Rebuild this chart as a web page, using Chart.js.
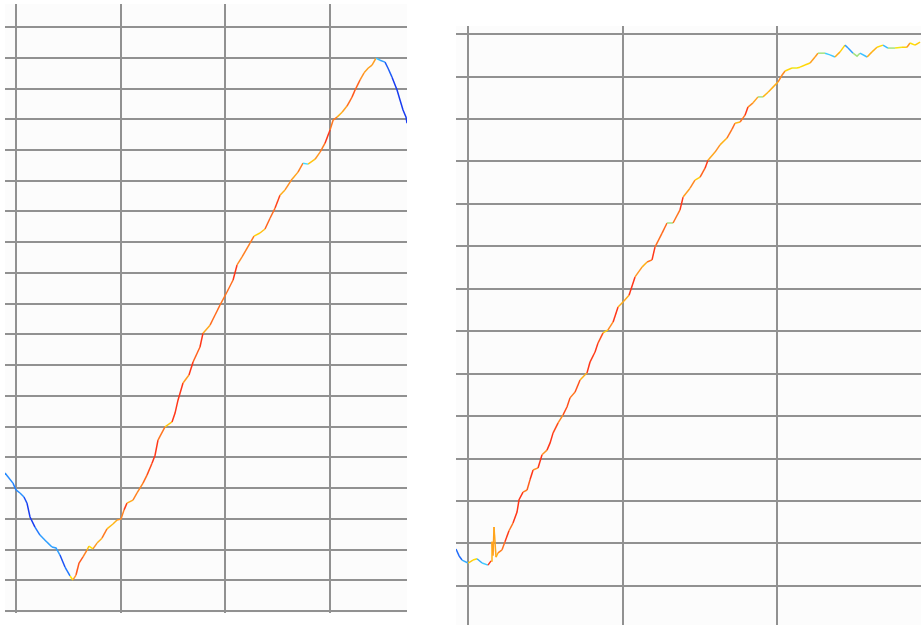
<!DOCTYPE html>
<html>
<head>
<meta charset="utf-8">
<script src="https://cdn.jsdelivr.net/npm/chart.js@4.4.1/dist/chart.umd.min.js"></script>
<style>
    html, body { margin: 0; padding: 0; background: #ffffff; }
    body { width: 921px; height: 625px; position: relative; overflow: hidden; }
    canvas { position: absolute; }
    #left-chart { left: 5px; top: 4px; }
    #right-chart { left: 456px; top: 26px; }
</style>
</head>
<body>
<canvas id="left-chart" width="402" height="609"></canvas>
<canvas id="right-chart" width="465" height="599"></canvas>
<script>
// left trace
const leftX = [-10.5, -2.9, 0, 3.8, 7.6, 10.5, 13.4, 18.1, 22.9, 29.6, 34.4, 38.2, 42.0, 46.8, 51.6, 54.4,
    57.3, 60.2, 64.0, 67.8, 69.7, 73.5, 77.4, 82.1, 86.9, 92.6, 96.5, 100.3, 103.2, 106.0, 111.7, 115.6,
    121.3, 125.1, 129.9, 132.8, 135.6, 142.3, 149.0, 151.9, 154.7, 159.5, 165.2, 169.1, 175.7, 178.6,
    185.3, 190.1, 194.8, 201.5, 207.3, 211.1, 215.9, 223.5, 227.3, 233.0, 237.8, 242.6, 247.4, 252.1,
    256.9, 263.6, 269.3, 274.1, 278.9, 285.6, 290.4, 295.1, 299.9, 302.8, 306.6, 311.4, 316.1, 320.9,
    323.8, 328.6, 332.4, 336.2, 340.0, 343.8, 347.7, 352.4, 355.3, 359.1, 363.9, 366.8, 369.6, 372.5, 373.4];
const leftY = [44.9, 41.6, 39.4, 38.4, 37.1, 35.1, 30.6, 27.3, 24.7, 22.4, 20.8, 20.5, 18.2, 14.3, 11.4, 10.1,
    11.7, 15.6, 17.6, 19.8, 21.1, 20.2, 22.1, 23.7, 26.7, 28.3, 29.6, 29.9, 32.9, 35.1, 36.1, 38.4,
    41.6, 44.2, 48.1, 50.7, 55.6, 59.9, 61.5, 64.4, 68.6, 74.2, 76.8, 81.0, 85.9, 90.4,
    93.0, 96.3, 99.5, 103.8, 107.7, 112.6, 115.2, 119.7, 122.0, 123.0, 124.3, 127.8, 131.1, 135.3,
    137.0, 140.5, 142.8, 145.7, 145.4, 147.0, 149.3, 152.2, 156.5, 159.7, 160.7, 162.3, 164.3, 167.2,
    169.5, 172.8, 175.1, 176.6, 177.6, 179.9, 179.2, 178.6, 176.6, 173.7, 169.5, 166.2, 163.0, 160.7, 158.7];
const leftXTicks = [0, 100, 200, 300];
const leftYTicks = [0, 10, 20, 30, 40, 50, 60, 70, 80, 90, 100, 110, 120, 130, 140, 150, 160, 170, 180, 190];

// right trace
const rightX = [-7.8, -5.8, -3.9, 0, 3.2, 5.8, 9.1, 12.9, 14.9, 15.5, 16.2, 16.8, 18.1, 19.4, 22.0, 23.9,
    26.5, 29.1, 31.7, 33.0, 35.6, 38.2, 40.1, 42.1, 45.3, 47.9, 51.1, 53.1, 55.0, 58.3, 61.5, 64.1,
    66.0, 69.3, 72.5, 77.0, 79.0, 82.2, 84.1, 87.4, 90.6, 93.9, 97.1, 100.3, 104.2, 108.1, 112.6,
    115.9, 119.1, 121.0, 125.6, 128.8, 132.7, 137.2, 139.2, 143.7, 146.9, 150.2, 153.4, 155.3, 159.9,
    163.1, 167.6, 170.9, 172.8, 176.1, 179.3, 181.2, 184.5, 187.7, 190.9, 194.2, 197.4, 200.6, 203.2,
    205.2, 209.7, 212.9, 214.9, 218.1, 221.4, 224.6, 226.5, 231.1, 234.3, 237.5, 240.8, 244.0, 246.0,
    249.2, 251.8, 253.7, 258.3, 261.5, 264.7, 268.6, 271.8, 276.4, 280.9, 284.1, 286.1, 289.3, 292.6];
const rightY = [8.7, 7.1, 6.1, 5.4, 6.1, 6.4, 5.4, 4.9, 5.9, 10.4, 7.1, 13.9, 6.8, 7.8, 8.5, 10.4,
    13.0, 14.8, 17.4, 20.3, 22.1, 22.6, 25.0, 27.3, 27.8, 30.9, 32.0, 33.7, 36.0, 38.4, 40.3, 42.2,
    44.3, 45.7, 48.5, 50.2, 52.8, 55.1, 57.2, 59.6, 60.3, 62.2, 65.7, 66.9, 68.5, 72.8, 75.1,
    76.3, 76.8, 79.8, 83.1, 85.5, 85.5, 88.6, 91.6, 93.7, 95.6, 96.3, 98.4, 100.3, 102.2,
    103.9, 105.5, 107.6, 109.0, 109.3, 110.9, 112.8, 113.8, 115.2, 115.2, 116.3, 117.5, 118.7, 120.3,
    121.3, 122.0, 122.0, 122.2, 122.7, 123.2, 124.6, 125.5, 125.5, 125.1, 124.6, 125.8, 127.4, 126.7,
    125.5, 124.8, 125.5, 124.6, 125.8, 126.9, 127.4, 126.7, 126.7, 126.9, 126.9, 127.9, 127.4, 128.1];
const rightXTicks = [0, 100, 200];
const rightYTicks = [0, 10, 20, 30, 40, 50, 60, 70, 80, 90, 100, 110, 120, 130];

// colour ramp: falling = blues, flat = cyan/yellow, rising = orange/red
const rampStops = [
    [-1, [25, 60, 240]],
    [-0.5, [35, 130, 255]],
    [-0.05, [70, 220, 255]],
    [0.05, [255, 232, 0]],
    [0.5, [255, 150, 35]],
    [1, [255, 55, 25]],
];

function ramp(t) {
    t = Math.max(-1, Math.min(1, t));
    for (let i = 1; i < rampStops.length; i++) {
        const [t1, c1] = rampStops[i];
        const [t0, c0] = rampStops[i - 1];
        if (t <= t1) {
            const f = (t - t0) / (t1 - t0);
            const c = c0.map((v, k) => Math.round(v + (c1[k] - v) * f));
            return `rgb(${c[0]}, ${c[1]}, ${c[2]})`;
        }
    }
    return "rgb(255, 55, 25)";
}

// colour by local slope on screen
function slopeColor(ctx) {
    const pts = ctx.chart.getDatasetMeta(ctx.datasetIndex).data;
    const cx = (ctx.p0.x + ctx.p1.x) / 2;
    let a = ctx.p0DataIndex, b = ctx.p1DataIndex;
    while (a > 0 && pts[a - 1].x > cx - 6) a--;
    while (b < pts.length - 1 && pts[b + 1].x < cx + 6) b++;
    const dx = Math.max(1, pts[b].x - pts[a].x);
    const slope = (pts[a].y - pts[b].y) / dx;
    return ramp(slope / 2.8);
}

const plotBackground = {
    id: "plotBackground",
    beforeDraw(chart) {
        const { ctx, chartArea } = chart;
        ctx.save();
        ctx.fillStyle = "#fcfcfc";
        ctx.fillRect(chartArea.left, chartArea.top, chartArea.width, chartArea.height);
        ctx.restore();
    }
};

function makeChart(id, xs, ys, xTicks, yTicks, xMin, xMax, yMin, yMax) {
    const ctx = document.getElementById(id).getContext("2d");
    const gridOpts = { color: "#919191", lineWidth: 2, drawTicks: false };
    return new Chart(ctx, {
        type: "line",
        data: {
            datasets: [{
                data: xs.map((x, i) => ({ x: x, y: ys[i] })),
                borderWidth: 1.5,
                pointRadius: 0,
                tension: 0,
                fill: false,
                segment: { borderColor: slopeColor },
            }]
        },
        options: {
            responsive: false,
            animation: false,
            devicePixelRatio: 1,
            layout: { padding: 0, autoPadding: false },
            plugins: {
                legend: { display: false },
                tooltip: { enabled: false },
            },
            scales: {
                x: {
                    type: "linear",
                    min: xMin,
                    max: xMax,
                    grid: gridOpts,
                    border: { display: false },
                    ticks: { display: false },
                    afterBuildTicks: axis => { axis.ticks = xTicks.map(v => ({ value: v })); },
                },
                y: {
                    type: "linear",
                    min: yMin,
                    max: yMax,
                    grid: gridOpts,
                    border: { display: false },
                    ticks: { display: false },
                    afterBuildTicks: axis => { axis.ticks = yTicks.map(v => ({ value: v })); },
                },
            },
        },
        plugins: [plotBackground],
    });
}

makeChart("left-chart", leftX, leftY, leftXTicks, leftYTicks, -10.5, 373.4, -0.65, 197.5);
makeChart("right-chart", rightX, rightY, rightXTicks, rightYTicks, -7.8, 293.2, -9.2, 131.9);
</script>
</body>
</html>
